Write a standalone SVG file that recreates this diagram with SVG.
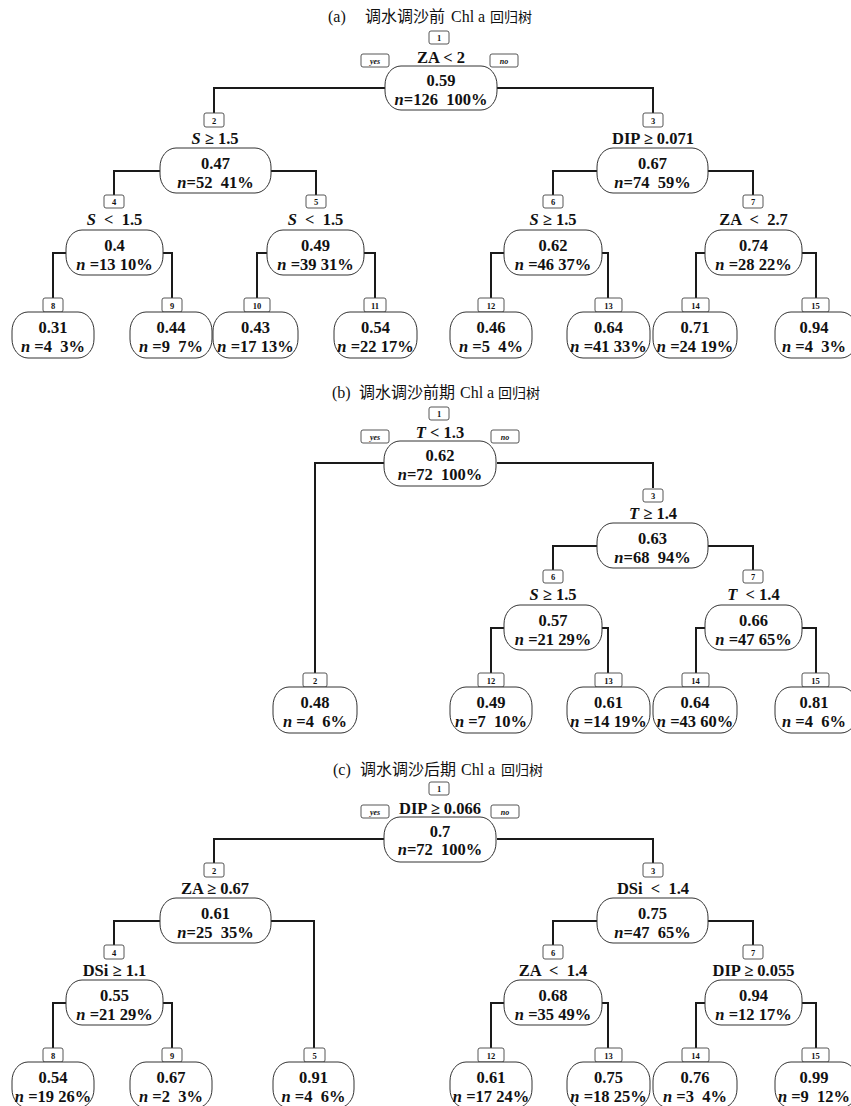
<svg xmlns="http://www.w3.org/2000/svg" width="851" height="1106" viewBox="0 0 851 1106">
<style>
text{font-family:"Liberation Serif","Times New Roman",serif;font-weight:bold;text-anchor:middle;white-space:pre;fill:#111}
.title{font-weight:normal;text-anchor:start;font-size:16px;font-family:"Liberation Serif","Noto Sans CJK SC",serif}
.cj{font-family:"Noto Sans CJK SC",sans-serif}
.cond{font-size:16.5px}
.v{font-size:16.5px}
.num{font-size:8.5px}
.yn{font-size:8px;font-style:italic}
.i{font-style:italic}
.c{fill:none;stroke:#1a1a1a;stroke-width:2}
.n{fill:#fff;stroke:#333;stroke-width:1}
.b{fill:#fff;stroke:#444;stroke-width:0.9}
</style>

<!-- titles -->
<text class="title" y="22"><tspan x="328">(a)</tspan><tspan x="365" class="cj">调水调沙前</tspan><tspan x="451">Chl a</tspan><tspan x="490" class="cj" font-size="14">回归树</tspan></text>
<text class="title" y="398"><tspan x="332">(b)</tspan><tspan x="359" class="cj">调水调沙前期</tspan><tspan x="460">Chl a</tspan><tspan x="498" class="cj" font-size="14">回归树</tspan></text>
<text class="title" y="775"><tspan x="333">(c)</tspan><tspan x="360" class="cj">调水调沙后期</tspan><tspan x="461">Chl a</tspan><tspan x="501" class="cj" font-size="14">回归树</tspan></text>

<!-- ================= Panel (a) ================= -->
<g id="panel-a">
<g id="a-connectors">
<path class="c" d="M385,88H214V113"/>
<path class="c" d="M497,88H653V113"/>
<path class="c" d="M160,171H114V195"/>
<path class="c" d="M271,171H316V195"/>
<path class="c" d="M597,171H553V195"/>
<path class="c" d="M708,171H753V195"/>
<path class="c" d="M66,253H53V298"/>
<path class="c" d="M163,253H172V298"/>
<path class="c" d="M267,253H257V298"/>
<path class="c" d="M364,253H375V298"/>
<path class="c" d="M504,253H491V298"/>
<path class="c" d="M602,253H608V298"/>
<path class="c" d="M705,253H696V298"/>
<path class="c" d="M802,253H816V298"/>
</g>
<g id="a-node1">
<rect class="b" x="429" y="31" width="20" height="13" rx="2"/><text class="num" x="439" y="41">1</text>
<rect class="b" x="361" y="54" width="28" height="13" rx="2"/><text class="yn" x="375" y="63.5">yes</text>
<rect class="b" x="490" y="54" width="28" height="13" rx="2"/><text class="yn" x="504" y="63.5">no</text>
<text class="cond" x="441" y="63">ZA &lt; 2</text>
<rect class="n" x="385" y="66" width="112" height="44" rx="16" ry="19"/>
<text class="v" x="441" y="86">0.59</text>
<text class="v" x="441" y="105"><tspan class="i">n</tspan>=126  100%</text>
</g>
<g id="a-node2">
<rect class="b" x="204" y="113" width="20" height="14" rx="2"/><text class="num" x="214" y="123.5">2</text>
<text class="cond" x="215" y="144"><tspan class="i">S</tspan> ≥ 1.5</text>
<rect class="n" x="160" y="148" width="111" height="45" rx="16" ry="19"/>
<text class="v" x="215.5" y="169">0.47</text>
<text class="v" x="215.5" y="188"><tspan class="i">n</tspan>=52  41%</text>
</g>
<g id="a-node3">
<rect class="b" x="643" y="113" width="20" height="14" rx="2"/><text class="num" x="653" y="123.5">3</text>
<text class="cond" x="653" y="144">DIP ≥ 0.071</text>
<rect class="n" x="597" y="148" width="111" height="45" rx="16" ry="19"/>
<text class="v" x="652.5" y="169">0.67</text>
<text class="v" x="652.5" y="188"><tspan class="i">n</tspan>=74  59%</text>
</g>
<g id="a-node4">
<rect class="b" x="104" y="195" width="20" height="13" rx="2"/><text class="num" x="114" y="205">4</text>
<text class="cond" x="114.5" y="225"><tspan class="i">S</tspan>  &lt;  1.5</text>
<rect class="n" x="66" y="230" width="97" height="45" rx="16" ry="19"/>
<text class="v" x="114.5" y="251">0.4</text>
<text class="v" x="114.5" y="270"><tspan class="i">n</tspan> =13 10%</text>
</g>
<g id="a-node5">
<rect class="b" x="306" y="195" width="20" height="13" rx="2"/><text class="num" x="316" y="205">5</text>
<text class="cond" x="315.5" y="225"><tspan class="i">S</tspan>  &lt;  1.5</text>
<rect class="n" x="267" y="230" width="97" height="45" rx="16" ry="19"/>
<text class="v" x="315.5" y="251">0.49</text>
<text class="v" x="315.5" y="270"><tspan class="i">n</tspan> =39 31%</text>
</g>
<g id="a-node6">
<rect class="b" x="543" y="195" width="20" height="13" rx="2"/><text class="num" x="553" y="205">6</text>
<text class="cond" x="553" y="225"><tspan class="i">S</tspan> ≥ 1.5</text>
<rect class="n" x="504" y="230" width="98" height="45" rx="16" ry="19"/>
<text class="v" x="553" y="251">0.62</text>
<text class="v" x="553" y="270"><tspan class="i">n</tspan> =46 37%</text>
</g>
<g id="a-node7">
<rect class="b" x="743" y="195" width="20" height="13" rx="2"/><text class="num" x="753" y="205">7</text>
<text class="cond" x="753.5" y="225">ZA  &lt;  2.7</text>
<rect class="n" x="705" y="230" width="97" height="45" rx="16" ry="19"/>
<text class="v" x="753.5" y="251">0.74</text>
<text class="v" x="753.5" y="270"><tspan class="i">n</tspan> =28 22%</text>
</g>
<g id="a-leaf8">
<rect class="b" x="43" y="298" width="20" height="14" rx="2"/><text class="num" x="53" y="308.5">8</text>
<rect class="n" x="12" y="312" width="82" height="46" rx="16" ry="19"/>
<text class="v" x="53" y="333">0.31</text>
<text class="v" x="53" y="352"><tspan class="i">n</tspan> =4  3%</text>
</g>
<g id="a-leaf9">
<rect class="b" x="162" y="298" width="20" height="14" rx="2"/><text class="num" x="172" y="308.5">9</text>
<rect class="n" x="130" y="312" width="82" height="46" rx="16" ry="19"/>
<text class="v" x="171" y="333">0.44</text>
<text class="v" x="171" y="352"><tspan class="i">n</tspan> =9  7%</text>
</g>
<g id="a-leaf10">
<rect class="b" x="244" y="298" width="26" height="14" rx="2"/><text class="num" x="257" y="308.5">10</text>
<rect class="n" x="213" y="312" width="85" height="46" rx="16" ry="19"/>
<text class="v" x="255.5" y="333">0.43</text>
<text class="v" x="255.5" y="352"><tspan class="i">n</tspan> =17 13%</text>
</g>
<g id="a-leaf11">
<rect class="b" x="364" y="298" width="22" height="14" rx="2"/><text class="num" x="375" y="308.5">11</text>
<rect class="n" x="334" y="312" width="83" height="46" rx="16" ry="19"/>
<text class="v" x="375.5" y="333">0.54</text>
<text class="v" x="375.5" y="352"><tspan class="i">n</tspan> =22 17%</text>
</g>
<g id="a-leaf12">
<rect class="b" x="478" y="298" width="26" height="14" rx="2"/><text class="num" x="491" y="308.5">12</text>
<rect class="n" x="450" y="312" width="82" height="46" rx="16" ry="19"/>
<text class="v" x="491" y="333">0.46</text>
<text class="v" x="491" y="352"><tspan class="i">n</tspan> =5  4%</text>
</g>
<g id="a-leaf13">
<rect class="b" x="595" y="298" width="27" height="14" rx="2"/><text class="num" x="608.5" y="308.5">13</text>
<rect class="n" x="567" y="312" width="83" height="46" rx="16" ry="19"/>
<text class="v" x="608.5" y="333">0.64</text>
<text class="v" x="608.5" y="352"><tspan class="i">n</tspan> =41 33%</text>
</g>
<g id="a-leaf14">
<rect class="b" x="682" y="298" width="27" height="14" rx="2"/><text class="num" x="695.5" y="308.5">14</text>
<rect class="n" x="653" y="312" width="84" height="46" rx="16" ry="19"/>
<text class="v" x="695" y="333">0.71</text>
<text class="v" x="695" y="352"><tspan class="i">n</tspan> =24 19%</text>
</g>
<g id="a-leaf15">
<rect class="b" x="802" y="298" width="27" height="14" rx="2"/><text class="num" x="815.5" y="308.5">15</text>
<rect class="n" x="775" y="312" width="82" height="46" rx="16" ry="19"/>
<text class="v" x="814" y="333">0.94</text>
<text class="v" x="814" y="352"><tspan class="i">n</tspan> =4  3%</text>
</g>
</g>

<!-- ================= Panel (b) ================= -->
<g id="panel-b" transform="translate(0,375)">
<g id="b-connectors">
<path class="c" d="M385,88H315V298"/>
<path class="c" d="M497,88H653V113"/>
<path class="c" d="M597,171H553V195"/>
<path class="c" d="M708,171H753V195"/>
<path class="c" d="M504,253H491V298"/>
<path class="c" d="M602,253H608V298"/>
<path class="c" d="M705,253H696V298"/>
<path class="c" d="M802,253H816V298"/>
</g>
<g id="b-node1">
<rect class="b" x="429" y="32" width="20" height="13" rx="2"/><text class="num" x="439" y="42">1</text>
<rect class="b" x="361" y="55" width="28" height="13" rx="2"/><text class="yn" x="375" y="64.5">yes</text>
<rect class="b" x="491" y="55" width="28" height="13" rx="2"/><text class="yn" x="505" y="64.5">no</text>
<text class="cond" x="440" y="63"><tspan class="i">T</tspan> &lt; 1.3</text>
<rect class="n" x="384" y="66" width="112" height="45" rx="16" ry="19"/>
<text class="v" x="440" y="86">0.62</text>
<text class="v" x="440" y="105"><tspan class="i">n</tspan>=72  100%</text>
</g>
<g id="b-leaf2">
<rect class="b" x="303" y="298" width="24" height="14" rx="2"/><text class="num" x="315" y="308.5">2</text>
<rect class="n" x="273" y="312" width="84" height="46" rx="16" ry="19"/>
<text class="v" x="315" y="333">0.48</text>
<text class="v" x="315" y="352"><tspan class="i">n</tspan> =4  6%</text>
</g>
<g id="b-node3">
<rect class="b" x="643" y="114" width="20" height="13" rx="2"/><text class="num" x="653" y="124">3</text>
<text class="cond" x="653" y="144"><tspan class="i">T</tspan> ≥ 1.4</text>
<rect class="n" x="597" y="148" width="111" height="45" rx="16" ry="19"/>
<text class="v" x="652.5" y="169">0.63</text>
<text class="v" x="652.5" y="188"><tspan class="i">n</tspan>=68  94%</text>
</g>
<g id="b-node6">
<rect class="b" x="543" y="195" width="20" height="13" rx="2"/><text class="num" x="553" y="205">6</text>
<text class="cond" x="553" y="225"><tspan class="i">S</tspan> ≥ 1.5</text>
<rect class="n" x="504" y="230" width="98" height="45" rx="16" ry="19"/>
<text class="v" x="553" y="251">0.57</text>
<text class="v" x="553" y="270"><tspan class="i">n</tspan> =21 29%</text>
</g>
<g id="b-node7">
<rect class="b" x="743" y="195" width="20" height="13" rx="2"/><text class="num" x="753" y="205">7</text>
<text class="cond" x="753.5" y="225"><tspan class="i">T</tspan>  &lt; 1.4</text>
<rect class="n" x="705" y="230" width="97" height="45" rx="16" ry="19"/>
<text class="v" x="753.5" y="251">0.66</text>
<text class="v" x="753.5" y="270"><tspan class="i">n</tspan> =47 65%</text>
</g>
<g id="b-leaf12">
<rect class="b" x="478" y="298" width="26" height="14" rx="2"/><text class="num" x="491" y="308.5">12</text>
<rect class="n" x="450" y="312" width="82" height="46" rx="16" ry="19"/>
<text class="v" x="491" y="333">0.49</text>
<text class="v" x="491" y="352"><tspan class="i">n</tspan> =7  10%</text>
</g>
<g id="b-leaf13">
<rect class="b" x="595" y="298" width="27" height="14" rx="2"/><text class="num" x="608.5" y="308.5">13</text>
<rect class="n" x="567" y="312" width="83" height="46" rx="16" ry="19"/>
<text class="v" x="608.5" y="333">0.61</text>
<text class="v" x="608.5" y="352"><tspan class="i">n</tspan> =14 19%</text>
</g>
<g id="b-leaf14">
<rect class="b" x="682" y="298" width="27" height="14" rx="2"/><text class="num" x="695.5" y="308.5">14</text>
<rect class="n" x="653" y="312" width="84" height="46" rx="16" ry="19"/>
<text class="v" x="695" y="333">0.64</text>
<text class="v" x="695" y="352"><tspan class="i">n</tspan> =43 60%</text>
</g>
<g id="b-leaf15">
<rect class="b" x="802" y="298" width="27" height="14" rx="2"/><text class="num" x="815.5" y="308.5">15</text>
<rect class="n" x="775" y="312" width="82" height="46" rx="16" ry="19"/>
<text class="v" x="814" y="333">0.81</text>
<text class="v" x="814" y="352"><tspan class="i">n</tspan> =4  6%</text>
</g>
</g>

<!-- ================= Panel (c) ================= -->
<g id="panel-c" transform="translate(0,750)">
<g id="c-connectors">
<path class="c" d="M385,89H214V113"/>
<path class="c" d="M497,89H653V113"/>
<path class="c" d="M160,171H114V195"/>
<path class="c" d="M271,171H314V298"/>
<path class="c" d="M597,171H553V195"/>
<path class="c" d="M708,171H753V195"/>
<path class="c" d="M66,253H53V298"/>
<path class="c" d="M163,253H172V298"/>
<path class="c" d="M504,253H491V298"/>
<path class="c" d="M602,253H608V298"/>
<path class="c" d="M705,253H696V298"/>
<path class="c" d="M802,253H816V298"/>
</g>
<g id="c-node1">
<rect class="b" x="429" y="32" width="20" height="13" rx="2"/><text class="num" x="439" y="42">1</text>
<rect class="b" x="361" y="55" width="28" height="13" rx="2"/><text class="yn" x="375" y="64.5">yes</text>
<rect class="b" x="491" y="55" width="28" height="13" rx="2"/><text class="yn" x="505" y="64.5">no</text>
<text class="cond" x="440" y="64">DIP ≥ 0.066</text>
<rect class="n" x="384" y="67" width="112" height="45" rx="16" ry="19"/>
<text class="v" x="440" y="87">0.7</text>
<text class="v" x="440" y="105"><tspan class="i">n</tspan>=72  100%</text>
</g>
<g id="c-node2">
<rect class="b" x="204" y="113" width="20" height="14" rx="2"/><text class="num" x="214" y="123.5">2</text>
<text class="cond" x="215" y="144">ZA ≥ 0.67</text>
<rect class="n" x="160" y="148" width="111" height="45" rx="16" ry="19"/>
<text class="v" x="215.5" y="169">0.61</text>
<text class="v" x="215.5" y="188"><tspan class="i">n</tspan>=25  35%</text>
</g>
<g id="c-node3">
<rect class="b" x="643" y="113" width="20" height="14" rx="2"/><text class="num" x="653" y="123.5">3</text>
<text class="cond" x="653" y="144">DSi  &lt;  1.4</text>
<rect class="n" x="597" y="148" width="111" height="45" rx="16" ry="19"/>
<text class="v" x="652.5" y="169">0.75</text>
<text class="v" x="652.5" y="188"><tspan class="i">n</tspan>=47  65%</text>
</g>
<g id="c-node4">
<rect class="b" x="104" y="195" width="20" height="14" rx="2"/><text class="num" x="114" y="205.5">4</text>
<text class="cond" x="114.5" y="226">DSi ≥ 1.1</text>
<rect class="n" x="66" y="230" width="97" height="45" rx="16" ry="19"/>
<text class="v" x="114.5" y="251">0.55</text>
<text class="v" x="114.5" y="270"><tspan class="i">n</tspan> =21 29%</text>
</g>
<g id="c-leaf5">
<rect class="b" x="304" y="298" width="21" height="14" rx="2"/><text class="num" x="314.5" y="308.5">5</text>
<rect class="n" x="273" y="312" width="81" height="46" rx="16" ry="19"/>
<text class="v" x="313.5" y="333">0.91</text>
<text class="v" x="313.5" y="352"><tspan class="i">n</tspan> =4  6%</text>
</g>
<g id="c-node6">
<rect class="b" x="543" y="195" width="20" height="14" rx="2"/><text class="num" x="553" y="205.5">6</text>
<text class="cond" x="553" y="226">ZA  &lt;  1.4</text>
<rect class="n" x="504" y="230" width="98" height="45" rx="16" ry="19"/>
<text class="v" x="553" y="251">0.68</text>
<text class="v" x="553" y="270"><tspan class="i">n</tspan> =35 49%</text>
</g>
<g id="c-node7">
<rect class="b" x="743" y="195" width="20" height="14" rx="2"/><text class="num" x="753" y="205.5">7</text>
<text class="cond" x="753.5" y="226">DIP ≥ 0.055</text>
<rect class="n" x="705" y="230" width="97" height="45" rx="16" ry="19"/>
<text class="v" x="753.5" y="251">0.94</text>
<text class="v" x="753.5" y="270"><tspan class="i">n</tspan> =12 17%</text>
</g>
<g id="c-leaf8">
<rect class="b" x="43" y="298" width="20" height="14" rx="2"/><text class="num" x="53" y="308.5">8</text>
<rect class="n" x="12" y="312" width="82" height="46" rx="16" ry="19"/>
<text class="v" x="53" y="333">0.54</text>
<text class="v" x="53" y="352"><tspan class="i">n</tspan> =19 26%</text>
</g>
<g id="c-leaf9">
<rect class="b" x="162" y="298" width="20" height="14" rx="2"/><text class="num" x="172" y="308.5">9</text>
<rect class="n" x="130" y="312" width="82" height="46" rx="16" ry="19"/>
<text class="v" x="171" y="333">0.67</text>
<text class="v" x="171" y="352"><tspan class="i">n</tspan> =2  3%</text>
</g>
<g id="c-leaf12">
<rect class="b" x="478" y="298" width="26" height="14" rx="2"/><text class="num" x="491" y="308.5">12</text>
<rect class="n" x="450" y="312" width="82" height="46" rx="16" ry="19"/>
<text class="v" x="491" y="333">0.61</text>
<text class="v" x="491" y="352"><tspan class="i">n</tspan> =17 24%</text>
</g>
<g id="c-leaf13">
<rect class="b" x="595" y="298" width="27" height="14" rx="2"/><text class="num" x="608.5" y="308.5">13</text>
<rect class="n" x="567" y="312" width="83" height="46" rx="16" ry="19"/>
<text class="v" x="608.5" y="333">0.75</text>
<text class="v" x="608.5" y="352"><tspan class="i">n</tspan> =18 25%</text>
</g>
<g id="c-leaf14">
<rect class="b" x="682" y="298" width="27" height="14" rx="2"/><text class="num" x="695.5" y="308.5">14</text>
<rect class="n" x="653" y="312" width="84" height="46" rx="16" ry="19"/>
<text class="v" x="695" y="333">0.76</text>
<text class="v" x="695" y="352"><tspan class="i">n</tspan> =3  4%</text>
</g>
<g id="c-leaf15">
<rect class="b" x="802" y="298" width="27" height="14" rx="2"/><text class="num" x="815.5" y="308.5">15</text>
<rect class="n" x="775" y="312" width="82" height="46" rx="16" ry="19"/>
<text class="v" x="814" y="333">0.99</text>
<text class="v" x="814" y="352"><tspan class="i">n</tspan> =9  12%</text>
</g>
</g>
</svg>
